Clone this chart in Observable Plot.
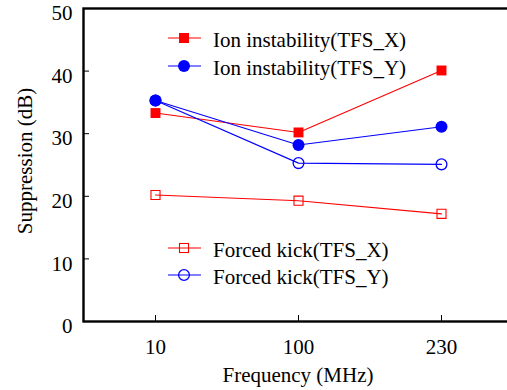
<!DOCTYPE html>
<html>
<head>
<meta charset="utf-8">
<script src="https://cdn.jsdelivr.net/npm/d3@7"></script>
<script src="https://cdn.jsdelivr.net/npm/@observablehq/plot@0.6"></script>
<style>
  html, body { margin: 0; padding: 0; background: #fff; overflow: hidden; width: 507px; height: 390px; }
  #wrap { position: relative; width: 513px; height: 390px; font-family: "Liberation Serif", "Times New Roman", "DejaVu Serif", serif; }
  .leg { position: absolute; display: flex; align-items: center; font-size: 21px; color: #000; white-space: nowrap; line-height: 1; }
  .leg svg { margin-right: 12px; }
</style>
</head>
<body>
<div id="wrap"></div>
<script>
const freqs = ["10", "100", "230"];
const ionX = [33.3, 30.2, 40.1];
const ionY = [35.3, 28.2, 31.1];
const kickX = [20.2, 19.3, 17.2];
const kickY = [35.3, 25.3, 25.1];
const yTicks = [0, 10, 20, 30, 40, 50];
const seriesNames = ["Ion instability(TFS_X)", "Ion instability(TFS_Y)", "Forced kick(TFS_X)", "Forced kick(TFS_Y)"];
const seriesColors = ["#ff0000", "#0000ff", "#ff0000", "#0000ff"];

const seriesVals = [ionX, ionY, kickX, kickY];
const rows = seriesVals.map((vals, i) => freqs.map((f, j) => ({series: seriesNames[i], freq: f, value: vals[j]})));

const marks = [];
rows.forEach((data, i) => {
  marks.push(Plot.line(data, {x: "freq", y: "value", stroke: seriesColors[i], strokeWidth: 1.1}));
});
// markers
marks.push(Plot.dot(rows[2], {x: "freq", y: "value", symbol: "square", r: 5.1, fill: "none", stroke: seriesColors[2], strokeWidth: 1.1}));
marks.push(Plot.dot(rows[3], {x: "freq", y: "value", symbol: "circle", r: 5.4, fill: "none", stroke: seriesColors[3], strokeWidth: 1.3}));
marks.push(Plot.dot(rows[0], {x: "freq", y: "value", symbol: "square", r: 5.6, fill: seriesColors[0], stroke: "none"}));
marks.push(Plot.dot(rows[1], {x: "freq", y: "value", symbol: "circle", r: 6, fill: seriesColors[1], stroke: "none"}));

const FONT = "'Liberation Serif', 'Times New Roman', 'DejaVu Serif', serif";
// y ticks (inward) and y labels (slightly lowered)
marks.push(Plot.axisY(yTicks, {tickSize: -6, text: null, label: null}));
marks.push(Plot.axisY(yTicks, {tickSize: 0, tickPadding: 11, fontSize: 21, dy: 5, label: null}));
marks.push(Plot.axisX(freqs, {tickSize: -6, tickPadding: 24, fontSize: 21, label: null}));
marks.push(Plot.frame({strokeWidth: 2.4, stroke: "#000"}));

const chart = Plot.plot({
  width: 513,
  height: 390,
  marginLeft: 83,
  marginRight: 0,
  marginTop: 8,
  marginBottom: 69,
  style: {fontFamily: FONT, fontSize: "21px", color: "#000", background: "#fff", overflow: "visible"},
  x: {type: "point", domain: freqs, padding: 0.5},
  y: {domain: [0, 50]},
  marks
});

const wrap = document.getElementById("wrap");
wrap.appendChild(chart);

// axis titles
const xt = document.createElement("div");
xt.textContent = "Frequency (MHz)";
Object.assign(xt.style, {position: "absolute", left: "298px", top: "375px", transform: "translate(-50%,-50%)", fontSize: "21px", whiteSpace: "nowrap", lineHeight: "1"});
wrap.appendChild(xt);
const yt = document.createElement("div");
yt.textContent = "Suppression (dB)";
Object.assign(yt.style, {position: "absolute", left: "25px", top: "161px", transform: "translate(-50%,-50%) rotate(-90deg)", fontSize: "21px", whiteSpace: "nowrap", lineHeight: "1"});
wrap.appendChild(yt);

// legend
const legPos = [[168, 35], [168, 63], [168, 245], [168, 272]];
const legSym = ["fsq", "fci", "osq", "oci"];
seriesNames.forEach((name, i) => {
  const d = document.createElement("div");
  d.className = "leg";
  const c = seriesColors[i];
  let sym = "";
  if (legSym[i] === "fsq") sym = `<rect x="11" y="3" width="10" height="10" fill="${c}"/>`;
  if (legSym[i] === "fci") sym = `<circle cx="16" cy="8" r="6" fill="${c}"/>`;
  if (legSym[i] === "osq") sym = `<rect x="11.5" y="3.5" width="9" height="9" fill="none" stroke="${c}" stroke-width="1.1"/>`;
  if (legSym[i] === "oci") sym = `<circle cx="16" cy="8" r="5.4" fill="none" stroke="${c}" stroke-width="1.3"/>`;
  d.innerHTML = `<svg width="33" height="16" style="overflow:visible"><line x1="0" x2="33" y1="8" y2="8" stroke="${c}" stroke-width="1.1"/>${sym}</svg><span style="position:relative;top:3px">${name}</span>`;
  Object.assign(d.style, {left: legPos[i][0] + "px", top: (legPos[i][1] - 8) + "px"});
  wrap.appendChild(d);
});
</script>
</body>
</html>
